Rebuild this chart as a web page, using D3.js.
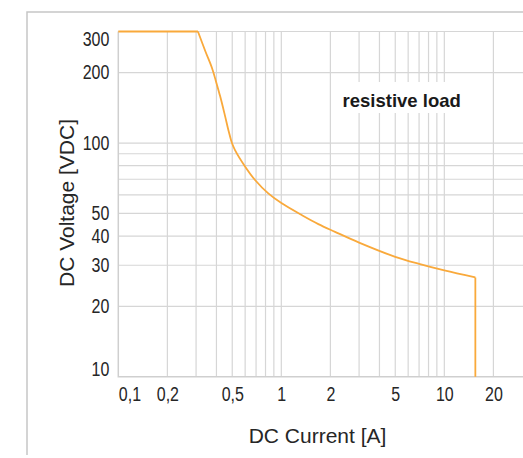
<!DOCTYPE html>
<html>
<head>
<meta charset="utf-8">
<script src="https://cdn.jsdelivr.net/npm/d3@7"></script>
<style>
	html, body { margin: 0; padding: 0; background: #fff; }
	svg { display: block; }
	.tick-label { font-family: 'Liberation Sans', Arial, sans-serif; font-size: 19.5px; fill: #262626; }
	.title { font-family: 'Liberation Sans', Arial, sans-serif; font-size: 21px; fill: #262626; }
</style>
</head>
<body>
<svg id="chart" width="523" height="458"></svg>
<script>
// values (log-log)
const current = [0.1, 0.308, 0.342, 0.376, 0.397, 0.422, 0.45, 0.476, 0.498, 0.52, 0.599, 0.69, 0.832, 1.006, 1.334, 1.687, 2.136, 3, 5, 7, 10, 15.5];
const voltage = [300, 300, 247, 209, 184, 158, 132, 112, 100, 93.3, 79.4, 69.5, 60.9, 55.2, 49.2, 45, 41.7, 37.5, 32.6, 30.4, 28.5, 26.6];
const cutoffCurrent = 15.5;

const xTicks = [0.1, 0.2, 0.5, 1, 2, 5, 10, 20];
const xTickLabels = ['0,1', '0,2', '0,5', '1', '2', '5', '10', '20'];
const xGrid = [0.2, 0.3, 0.4, 0.5, 0.6, 0.7, 0.8, 0.9, 1, 2, 3, 4, 5, 6, 7, 8, 9, 10, 20];
const yTicks = [10, 20, 30, 40, 50, 100, 200, 300];
const yGrid = [20, 30, 40, 50, 60, 70, 80, 90, 100, 200, 300];

const svg = d3.select('#chart');
const plotLeft = 118.3, plotRight = 522.1, plotTop = 31.5, plotBottom = 376.8;
const squeeze = 0.82; // tick font in the reference is condensed

const x = d3.scaleLog().domain([0.1, 30]).range([plotLeft, plotRight]);
const y = d3.scaleLog().domain([10, 300]).range([plotBottom, plotTop]);

// outer frame (top + left only)
svg.append('path')
	.attr('d', 'M27,455V12H523')
	.attr('fill', 'none')
	.attr('stroke', '#c6c6c6')
	.attr('stroke-width', 1.5);

// grid
const grid = svg.append('g').attr('stroke', '#d6d6d6').attr('stroke-width', 1.2);
grid.selectAll('.vg')
	.data(xGrid)
	.join('line')
	.attr('x1', (d) => x(d)).attr('x2', (d) => x(d))
	.attr('y1', plotTop).attr('y2', plotBottom);
grid.selectAll('.hg')
	.data(yGrid)
	.join('line')
	.attr('x1', plotLeft).attr('x2', 523)
	.attr('y1', (d) => y(d)).attr('y2', (d) => y(d));

// axis lines
svg.append('path')
	.attr('d', `M${plotLeft},${plotTop}V${plotBottom}H523`)
	.attr('fill', 'none')
	.attr('stroke', '#cfcfcf')
	.attr('stroke-width', 1.5);

// axes (labels only)
const xAxis = svg.append('g')
	.attr('transform', `translate(0,${plotBottom})`)
	.call(d3.axisBottom(x).tickValues(xTicks).tickSize(0).tickPadding(10.4)
		.tickFormat((d, i) => xTickLabels[i]));
xAxis.select('.domain').remove();
xAxis.attr('font-size', null).attr('font-family', null);
xAxis.selectAll('text')
	.attr('class', 'tick-label')
	.attr('fill', null)
	.attr('transform', `scale(${squeeze},1)`);
xAxis.selectAll('.tick').filter((d) => d === 0.1).select('text').attr('text-anchor', 'start');

const yAxis = svg.append('g')
	.attr('transform', `translate(${plotLeft},0)`)
	.call(d3.axisLeft(y).tickValues(yTicks).tickSize(0).tickPadding(8).tickFormat(d3.format('d')));
yAxis.select('.domain').remove();
yAxis.attr('font-size', null).attr('font-family', null);
yAxis.selectAll('text')
	.attr('class', 'tick-label')
	.attr('fill', null)
	.attr('x', -9 / squeeze)
	.attr('transform', `scale(${squeeze},1)`);
yAxis.selectAll('.tick').filter((d) => d === 300).select('text').attr('y', 7.5);
yAxis.selectAll('.tick').filter((d) => d === 10).select('text').attr('y', -7.5);

// label with white backing
const lbl = svg.append('g');
const lt = lbl.append('text')
	.attr('x', 401.7).attr('y', 106.5)
	.attr('text-anchor', 'middle')
	.style('font-family', "'Liberation Sans', Arial, sans-serif")
	.style('font-size', '18.5px')
	.style('font-weight', 'bold')
	.style('fill', '#1a1a1a')
	.text('resistive load');
const bb = lt.node().getBBox();
lbl.insert('rect', 'text')
	.attr('x', bb.x - 3).attr('y', 82)
	.attr('width', bb.width + 6).attr('height', 31)
	.attr('fill', '#fff');

// curve: flat limit, then smooth falling part, then vertical cut-off
const pts = current.map((c, i) => [c, voltage[i]]);
const straight = d3.line().x((d) => x(d[0])).y((d) => y(d[1]));
const smooth = d3.line().x((d) => x(d[0])).y((d) => y(d[1])).curve(d3.curveCatmullRom.alpha(0.5));
const curve = svg.append('g')
	.attr('fill', 'none')
	.attr('stroke', '#f9a93b')
	.attr('stroke-width', 1.8)
	.attr('stroke-linejoin', 'round');
curve.append('path').attr('d', straight(pts.slice(0, 2)));
curve.append('path').attr('d', smooth(pts.slice(1)));
curve.append('path').attr('d', straight([[cutoffCurrent, voltage[voltage.length - 1]], [cutoffCurrent, 10]]));

// titles
svg.append('text')
	.attr('class', 'title')
	.attr('x', 317.5).attr('y', 443.3)
	.attr('text-anchor', 'middle')
	.text('DC Current [A]');
svg.append('text')
	.attr('class', 'title')
	.attr('transform', 'translate(74,203) rotate(-90)')
	.attr('text-anchor', 'middle')
	.text('DC Voltage [VDC]');
</script>
</body>
</html>
